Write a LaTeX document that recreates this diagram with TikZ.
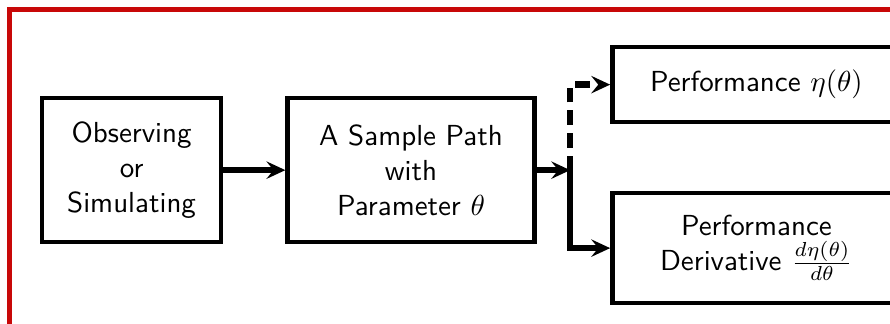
\documentclass[tikz,border=0pt]{standalone}
\usepackage{tikz}
\usetikzlibrary{positioning, calc, arrows.meta}

\definecolor{framered}{RGB}{200,8,8}

\begin{document}
\begin{tikzpicture}[
		block/.style={draw, rectangle, line width=1.5pt, align=center, font=\sffamily, inner sep=3pt},
		flow/.style={line width=2.2pt, -{Stealth[length=6.5pt, width=6pt, inset=2.4pt]}},
		maybe/.style={flow, dash pattern=on 5pt off 2.8pt},
	]
	\useasboundingbox (0,0) rectangle (307.05pt,-111.78pt);
	% outer frame
	\draw[framered, line width=1.6pt] (3.35pt,-3.35pt) rectangle (330pt,-112.45pt);

	% source of the sample path
	\node[block, minimum width=61.8pt, minimum height=49.7pt] (observe) at (45.4pt,-58.7pt)
		{Observing\\or\\Simulating};

	% sample path
	\node[block, minimum width=85.2pt, minimum height=49.7pt, right=21.4pt of observe] (samplepath)
		{A Sample Path\\with\\Parameter $\theta$};

	% branch point
	\coordinate (split) at (196.7pt,-58.7pt);

	% outputs
	\node[block, anchor=west, minimum width=99.4pt, minimum height=25.9pt] (perf) at (210.5pt,-29.2pt)
		{Performance $\eta(\theta)$};
	\node[block, anchor=west, minimum width=99.4pt, minimum height=38pt] (deriv) at (210.5pt,-85.6pt)
		{Performance\\Derivative $\frac{d\eta(\theta)}{d\theta}$};

	\draw[flow] (observe.east) -- (samplepath.west);
	\draw[flow] (samplepath.east) -- (split);
	\draw[maybe] (split) |- (perf.west);
	\draw[flow] ($(split)+(0,1.1pt)$) |- (deriv.west);
\end{tikzpicture}
\end{document}
